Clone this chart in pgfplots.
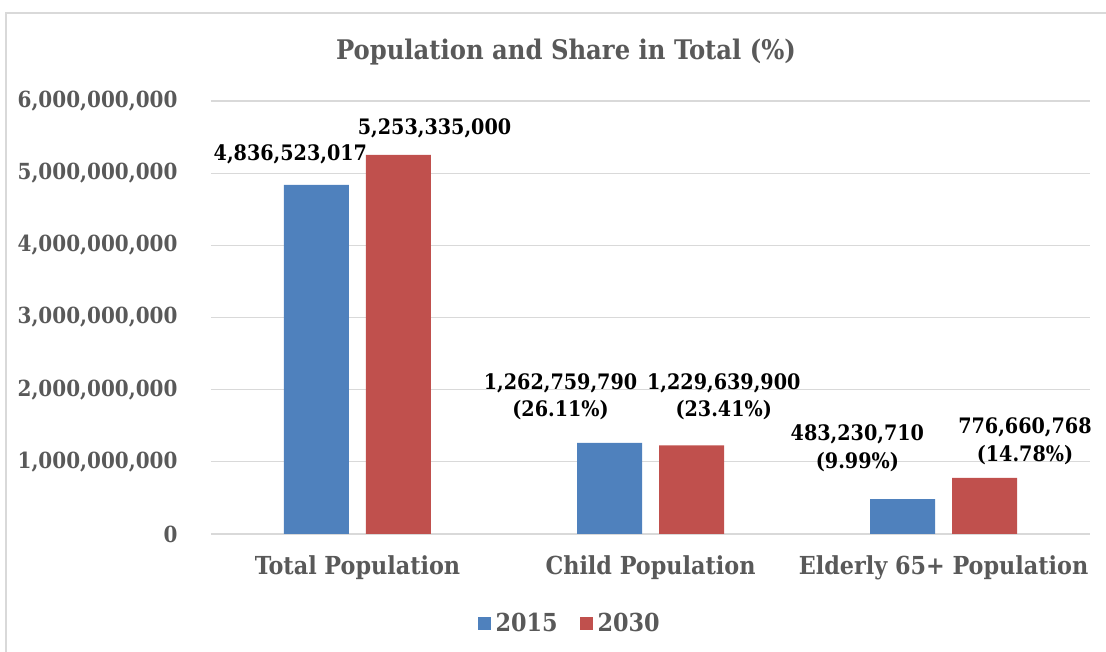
\documentclass[border=0pt]{standalone}
\usepackage{fontspec}
\setmainfont{DejaVu Serif Condensed}
\usepackage{pgfplots}
\pgfplotsset{compat=1.18}
\definecolor{cblue}{HTML}{4F81BD}
\definecolor{cred}{HTML}{C0504D}
\definecolor{cgrid}{HTML}{D9D9D9}
\definecolor{ctext}{HTML}{595959}
\newcommand{\tf}{\fontsize{22.2}{27}\selectfont\bfseries}
\newcommand{\lf}{\fontsize{21.3}{27.5}\selectfont\bfseries}
\newcommand{\cf}{\fontsize{24.8}{28}\selectfont\bfseries}
\begin{document}
\begin{tikzpicture}
\path[use as bounding box] (-211pt,-118pt) rectangle (895pt,534pt);
\draw[cgrid, line width=1.2pt] (-205pt,-140pt) -- (-205pt,521pt) -- (910pt,521pt);
\node[text=ctext, font=\fontsize{27}{30}\selectfont\bfseries] at (355pt,482pt) {Population and Share in Total (\%)};
\begin{axis}[at={(0pt,0pt)}, anchor=south west, scale only axis,
  width=879pt, height=433pt,
  xmin=-0.5, xmax=2.5, ymin=0, ymax=6000000000,
  ytick={0,1000000000,2000000000,3000000000,4000000000,5000000000,6000000000},
  scaled y ticks=false,
  /pgf/number format/.cd, fixed, 1000 sep={,}, precision=0, assume math mode=true,
  /pgfplots/.cd,
  xtick={0,1,2},
  xticklabels={Total Population, Child Population, Elderly 65+ Population},
  major tick length=0pt,
  axis y line*=left, y axis line style={draw=none},
  axis x line*=bottom, x axis line style={cgrid, line width=1.2pt},
  ymajorgrids, grid style={cgrid, line width=1.2pt},
  yticklabel style={font=\tf, text=ctext, xshift=-30pt},
  xticklabel style={font=\cf, text=ctext, yshift=-18pt},
  ybar, bar width=65pt,
  legend style={at={(0.408,-0.206)}, anchor=center, draw=none, fill=none,
    font=\cf, text=ctext, legend columns=2,
    /tikz/every even column/.append style={column sep=20pt},
    /tikz/every odd column/.append style={column sep=3pt}},
  legend image code/.code={\fill[#1] (0pt,-7pt) rectangle (13pt,6pt);},
]
\addplot[ybar, bar shift=-41pt, fill=cblue, draw=none] coordinates {(0,4836523017) (1,1262759790) (2,483230710)};
\addplot[ybar, bar shift=41pt, fill=cred, draw=none] coordinates {(0,5253335000) (1,1229639900) (2,776660768)};
\legend{2015,2030}
\node[font=\lf, align=center] at (axis cs:-0.229,5265000000) {4,836,523,017};
\node[font=\lf, align=center] at (axis cs:0.263,5626000000) {5,253,335,000};
\node[font=\lf, align=center] at (axis cs:0.693,1905000000) {1,262,759,790\\(26.11\%)};
\node[font=\lf, align=center] at (axis cs:1.250,1905000000) {1,229,639,900\\(23.41\%)};
\node[font=\lf, align=center] at (axis cs:1.706,1185000000) {483,230,710\\(9.99\%)};
\node[font=\lf, align=center] at (axis cs:2.278,1282000000) {776,660,768\\(14.78\%)};
\end{axis}
\end{tikzpicture}
\end{document}
